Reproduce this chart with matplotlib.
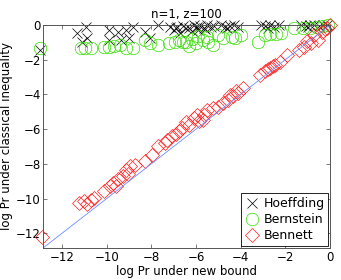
import matplotlib.pyplot as plt
import numpy as np

plt.rcParams['font.family'] = 'DejaVu Sans'
plt.rcParams.update({'font.size': 9})

# Hoeffding (black crosses)
hoef_x = [-12.98, -11.32, -10.94, -10.86, -11.1, -9.88, -9.5, -9.12, -8.82, -9.88,
          -9.35, -9.0, -8.29, -8.06, -7.68, -7.15, -7.0, -6.85, -6.7, -6.47, -6.9,
          -6.6, -6.3, -6.1, -5.95, -5.8, -5.65, -5.5, -5.35, -5.2, -6.2, -5.9, -5.6,
          -4.9, -4.7, -4.5, -4.3, -4.1, -4.6, -3.1, -2.9, -2.7, -2.5, -2.3, -2.8,
          -1.3, -1.1, -0.9, -0.7, -0.5, -1.0, -0.3, -0.15]
hoef_y = [-1.44, -0.48, -0.1, -0.77, -0.96, -0.29, -0.38, -0.29, -0.1, -0.86,
          -0.86, -0.77, -0.38, -0.77, 0.0, -0.1, -0.3, -0.1, -0.45, -0.19, -0.2,
          -0.05, -0.15, 0.0, -0.1, -0.05, -0.2, 0.0, -0.1, -0.05, -0.35, -0.3, -0.25,
          0.0, -0.1, -0.05, 0.0, -0.1, -0.2, 0.0, -0.05, 0.0, -0.1, 0.0, -0.15,
          0.0, -0.05, 0.0, 0.0, -0.05, -0.1, 0.0, 0.0]

# Bernstein (green circles)
bern_x = [-12.98, -11.17, -10.95, -10.72, -10.1, -9.9, -9.65, -9.4, -9.12, -8.82,
          -8.29, -8.06, -7.68, -7.23, -6.95, -6.75, -6.6, -6.47, -6.2, -5.98, -5.7,
          -5.45, -5.26, -5.5, -4.8, -4.4, -4.25, -4.0, -3.21, -2.9, -2.7, -2.4, -2.2,
          -1.6, -1.2, -0.9, -0.6, -0.3, -0.1, -6.3, -5.9, -5.0]
bern_y = [-1.34, -1.34, -1.34, -1.34, -1.25, -1.25, -1.2, -1.15, -1.34, -1.34,
          -0.86, -1.05, -1.15, -1.05, -0.96, -0.86, -0.96, -0.96, -0.8, -1.05, -0.86,
          -0.96, -1.15, -0.7, -0.77, -0.7, -0.77, -0.6, -0.96, -0.6, -0.55, -0.5,
          -0.45, -0.2, -0.15, -0.15, -0.1, -0.05, 0.0, -1.2, -0.65, -0.6]

# Bennett (red diamonds)
benn_x = [-12.9, -11.24, -11.0, -10.86, -10.71, -10.56, -10.1, -9.87, -9.72, -9.5,
          -9.27, -9.12, -8.97, -8.74, -8.28, -7.99, -7.68, -7.3, -7.08, -6.77, -6.62,
          -6.32, -6.09, -5.94, -5.86, -5.71, -5.64, -5.49, -5.26, -5.03, -4.8, -4.58,
          -4.35, -4.12, -3.9, -3.14, -2.91, -2.68, -2.45, -2.23, -1.92, -1.4, -1.17,
          -0.86, -0.56, -0.35, -0.15, 0.0, -9.6, -9.05, -7.4, -6.9, -6.45, -4.5,
          -4.2, -2.8, -2.55, -1.05, -0.7, -0.25]
benn_y = [-12.24, -10.25, -10.15, -10.34, -10.06, -9.96, -9.58, -9.29, -9.1, -8.9,
          -8.72, -8.33, -8.14, -8.05, -7.86, -7.47, -6.99, -6.61, -6.42, -6.13, -5.94,
          -5.75, -5.36, -5.17, -5.56, -5.46, -5.17, -4.89, -4.79, -4.7, -4.5, -4.31,
          -4.12, -3.93, -3.64, -2.87, -2.68, -2.49, -2.3, -2.11, -1.72, -1.44, -1.25,
          -1.05, -0.86, -0.4, -0.15, 0.0, -9.25, -8.6, -6.8, -6.3, -5.6, -4.05,
          -3.8, -2.55, -2.35, -0.95, -0.6, -0.25]

lo = -12.85

fig = plt.figure(figsize=(3.41, 2.80), dpi=100)
ax = fig.add_axes([0.126, 0.114, 0.842, 0.797])

ax.plot(hoef_x, hoef_y, 'x', color='black', markersize=7, markeredgewidth=0.5,
        label='Hoeffding', clip_on=False)
ax.plot(bern_x, bern_y, 'o', color='#33dd00', markerfacecolor='none', markersize=9,
        markeredgewidth=0.5, label='Bernstein', clip_on=False)
ax.plot(benn_x, benn_y, 'D', color='#ff2020', markerfacecolor='none', markersize=7,
        markeredgewidth=0.5, label='Bennett', clip_on=False)
ax.plot([lo, 0], [lo, 0], '-', color='#6a8cff', linewidth=0.6)

ax.set_xlim(lo, 0)
ax.set_ylim(lo, 0)
ax.set_xticks([-12, -10, -8, -6, -4, -2, 0])
ax.set_yticks([-12, -10, -8, -6, -4, -2, 0])
ax.tick_params(direction='in', top=True, right=True, length=3, width=0.5,
               labelsize=8.5, color='#444444')
ax.tick_params(axis='y', pad=1.5)
ax.tick_params(axis='x', pad=2)
for s in ax.spines.values():
    s.set_linewidth(0.7)
    s.set_color('#555555')

ax.set_title('n=1, z=100', fontsize=8.5, pad=5)
ax.set_xlabel('log Pr under new bound', fontsize=8.5)
ax.set_ylabel('log Pr under classical inequality', fontsize=8.5)
ax.xaxis.set_label_coords(0.5, -0.076)
ax.yaxis.set_label_coords(-0.105, 0.5)

leg = ax.legend(loc='lower right', fancybox=False, edgecolor='black',
                framealpha=1, borderaxespad=0.15, handletextpad=0.3,
                borderpad=0.3, labelspacing=0.25, handlelength=1.2, fontsize=9)
leg.get_frame().set_linewidth(0.6)

plt.savefig('out.png', dpi=100)
